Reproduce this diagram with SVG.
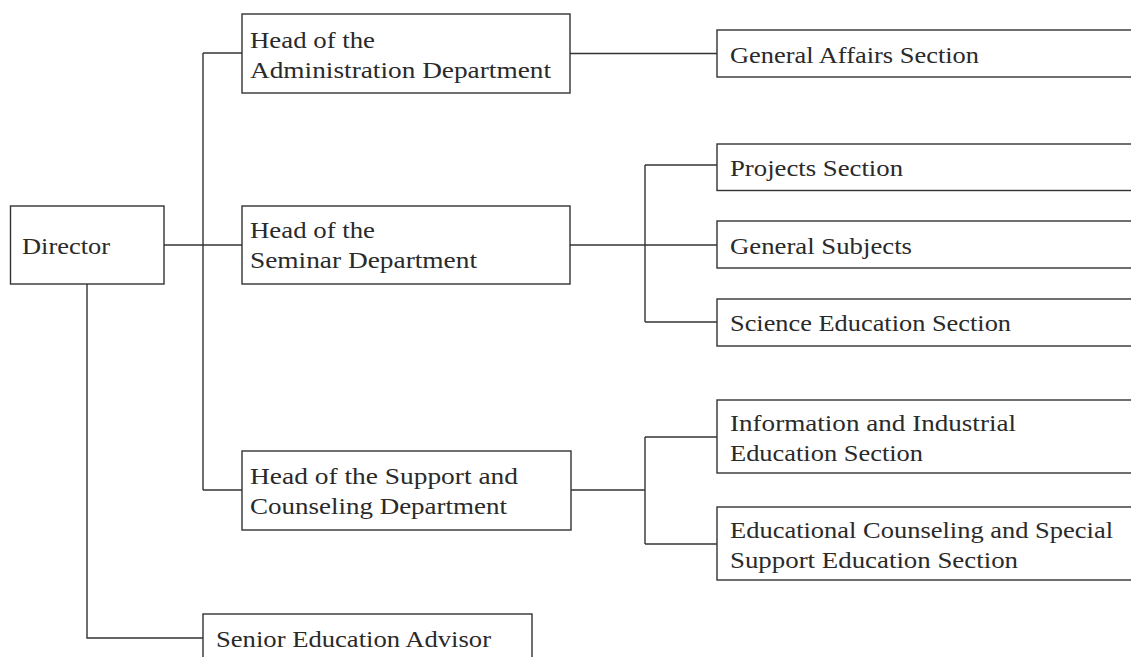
<svg xmlns="http://www.w3.org/2000/svg" width="1131" height="657" viewBox="0 0 1131 657">
<style>
.box{fill:#fff;stroke:#333;stroke-width:1.4}
.ln{fill:none;stroke:#333;stroke-width:1.4}
text{font-family:"Liberation Serif","DejaVu Serif",serif;font-size:24px;fill:#2a2a2a}
</style>
<rect width="1131" height="657" fill="#fff"/>
<g id="connectors">
<path class="ln" d="M164,245 H242"/>
<path class="ln" d="M203,53 V490"/>
<path class="ln" d="M203,53 H242"/>
<path class="ln" d="M203,490 H242"/>
<path class="ln" d="M87,284 V638 H203"/>
<path class="ln" d="M570,53.5 H717"/>
<path class="ln" d="M570,245 H717"/>
<path class="ln" d="M645,165 V322"/>
<path class="ln" d="M645,165 H717"/>
<path class="ln" d="M645,322 H717"/>
<path class="ln" d="M571,490 H645"/>
<path class="ln" d="M645,437 V544"/>
<path class="ln" d="M645,437 H717"/>
<path class="ln" d="M645,544 H717"/>
</g>
<g id="director">
<rect class="box" x="10.5" y="206" width="153.5" height="78"/>
<text x="22" y="254" textLength="88" lengthAdjust="spacingAndGlyphs">Director</text>
</g>
<g id="head-admin">
<rect class="box" x="242" y="14" width="328" height="79"/>
<text x="250" y="47.5" textLength="125" lengthAdjust="spacingAndGlyphs">Head of the</text>
<text x="250" y="78" textLength="301" lengthAdjust="spacingAndGlyphs">Administration Department</text>
</g>
<g id="head-seminar">
<rect class="box" x="242" y="206" width="328" height="78"/>
<text x="250" y="237.5" textLength="125" lengthAdjust="spacingAndGlyphs">Head of the</text>
<text x="250" y="268" textLength="227" lengthAdjust="spacingAndGlyphs">Seminar Department</text>
</g>
<g id="head-support">
<rect class="box" x="242" y="451" width="329" height="79"/>
<text x="250" y="484" textLength="268" lengthAdjust="spacingAndGlyphs">Head of the Support and</text>
<text x="250" y="513.5" textLength="257" lengthAdjust="spacingAndGlyphs">Counseling Department</text>
</g>
<g id="senior-advisor">
<rect class="box" x="203" y="614" width="329" height="60"/>
<text x="216" y="646.5" textLength="275" lengthAdjust="spacingAndGlyphs">Senior Education Advisor</text>
</g>
<g id="general-affairs">
<rect class="box" x="717" y="30" width="430" height="47"/>
<text x="730" y="62.5" textLength="249" lengthAdjust="spacingAndGlyphs">General Affairs Section</text>
</g>
<g id="projects">
<rect class="box" x="717" y="144" width="430" height="46.5"/>
<text x="730" y="175.5" textLength="173" lengthAdjust="spacingAndGlyphs">Projects Section</text>
</g>
<g id="general-subjects">
<rect class="box" x="717" y="221" width="430" height="47"/>
<text x="730" y="254" textLength="182" lengthAdjust="spacingAndGlyphs">General Subjects</text>
</g>
<g id="science-education">
<rect class="box" x="717" y="299" width="430" height="47"/>
<text x="730" y="330.5" textLength="281" lengthAdjust="spacingAndGlyphs">Science Education Section</text>
</g>
<g id="info-industrial">
<rect class="box" x="717" y="400" width="430" height="73"/>
<text x="730" y="431" textLength="286" lengthAdjust="spacingAndGlyphs">Information and Industrial</text>
<text x="730" y="460.5" textLength="193" lengthAdjust="spacingAndGlyphs">Education Section</text>
</g>
<g id="counseling-special">
<rect class="box" x="717" y="507" width="430" height="73"/>
<text x="730" y="537.5" textLength="383" lengthAdjust="spacingAndGlyphs">Educational Counseling and Special</text>
<text x="730" y="567.5" textLength="288" lengthAdjust="spacingAndGlyphs">Support Education Section</text>
</g>
</svg>
